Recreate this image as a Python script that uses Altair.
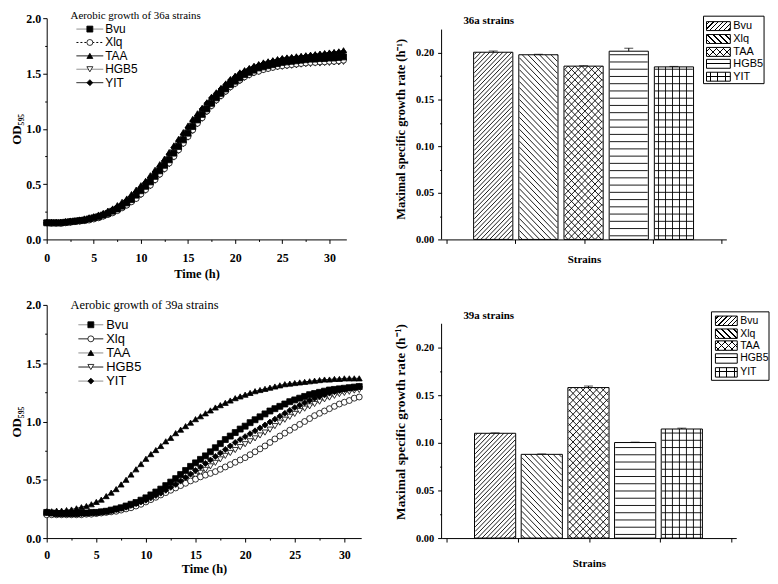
import altair as alt
import pandas as pd

STRAINS = ["Bvu", "Xlq", "TAA", "HGB5", "YIT"]
TIME_H = [0.5 * i for i in range(64)]

OD_36A_BVU = [0.15,0.15,0.15,0.15,0.155,0.16,0.165,0.17,0.175,0.185,
              0.195,0.205,0.22,0.235,0.255,0.275,0.30,0.33,0.36,0.40,
              0.44,0.48,0.52,0.57,0.62,0.67,0.72,0.78,0.84,0.90,
              0.96,1.02,1.08,1.13,1.18,1.23,1.28,1.32,1.36,1.40,
              1.43,1.46,1.49,1.51,1.53,1.55,1.56,1.57,1.58,1.59,
              1.60,1.605,1.61,1.615,1.62,1.625,1.63,1.63,1.635,1.635,
              1.64,1.64,1.645,1.65]
OD_36A_XLQ = [0.15,0.145,0.145,0.145,0.15,0.155,0.16,0.165,0.17,0.175,
              0.185,0.195,0.21,0.225,0.24,0.26,0.285,0.31,0.34,0.37,
              0.41,0.45,0.49,0.54,0.59,0.64,0.69,0.75,0.81,0.87,
              0.93,0.99,1.05,1.10,1.16,1.21,1.26,1.30,1.34,1.38,
              1.41,1.44,1.47,1.49,1.51,1.52,1.535,1.545,1.555,1.565,
              1.57,1.575,1.58,1.585,1.59,1.595,1.60,1.60,1.605,1.605,
              1.61,1.61,1.615,1.62]
OD_36A_TAA = [0.16,0.16,0.16,0.16,0.165,0.17,0.17,0.18,0.19,0.20,
              0.21,0.225,0.24,0.26,0.28,0.31,0.34,0.37,0.41,0.45,
              0.49,0.53,0.58,0.63,0.68,0.73,0.79,0.85,0.91,0.97,
              1.03,1.09,1.14,1.19,1.24,1.29,1.33,1.37,1.41,1.45,
              1.48,1.51,1.53,1.55,1.57,1.585,1.60,1.61,1.62,1.63,
              1.64,1.645,1.65,1.655,1.66,1.665,1.67,1.675,1.68,1.685,
              1.69,1.695,1.70,1.71]
OD_36A_HGB5 = [0.15,0.15,0.145,0.145,0.15,0.15,0.155,0.16,0.165,0.175,
               0.18,0.19,0.205,0.22,0.24,0.26,0.28,0.305,0.335,0.365,
               0.40,0.44,0.48,0.53,0.58,0.63,0.68,0.74,0.80,0.86,
               0.92,0.98,1.04,1.09,1.15,1.20,1.25,1.29,1.33,1.37,
               1.40,1.43,1.46,1.48,1.50,1.515,1.53,1.54,1.55,1.555,
               1.56,1.565,1.57,1.575,1.58,1.585,1.585,1.59,1.59,1.595,
               1.595,1.60,1.60,1.605]
OD_36A_YIT = [0.15,0.15,0.15,0.155,0.16,0.165,0.17,0.175,0.18,0.19,
              0.20,0.215,0.23,0.25,0.27,0.295,0.32,0.355,0.39,0.43,
              0.47,0.515,0.56,0.61,0.66,0.71,0.77,0.83,0.89,0.95,
              1.01,1.07,1.12,1.18,1.23,1.28,1.32,1.36,1.40,1.44,
              1.47,1.50,1.52,1.54,1.56,1.575,1.59,1.60,1.61,1.62,
              1.63,1.635,1.64,1.645,1.65,1.655,1.66,1.665,1.67,1.675,
              1.68,1.685,1.69,1.695]

OD_39A_BVU = [0.22,0.215,0.21,0.21,0.21,0.21,0.21,0.215,0.215,0.22,
              0.22,0.225,0.23,0.24,0.25,0.26,0.275,0.29,0.305,0.325,
              0.345,0.37,0.395,0.42,0.45,0.48,0.51,0.545,0.58,0.615,
              0.645,0.675,0.705,0.74,0.775,0.81,0.845,0.875,0.905,0.935,
              0.96,0.99,1.015,1.04,1.065,1.09,1.11,1.13,1.15,1.17,
              1.185,1.20,1.215,1.23,1.24,1.25,1.26,1.27,1.275,1.28,
              1.285,1.29,1.295,1.30]
OD_39A_XLQ = [0.20,0.20,0.20,0.20,0.20,0.20,0.20,0.20,0.205,0.205,
              0.21,0.215,0.22,0.225,0.23,0.24,0.25,0.26,0.275,0.29,
              0.31,0.33,0.35,0.37,0.39,0.41,0.43,0.45,0.47,0.49,
              0.505,0.525,0.54,0.555,0.57,0.59,0.61,0.63,0.65,0.67,
              0.69,0.715,0.74,0.765,0.79,0.82,0.85,0.875,0.90,0.925,
              0.95,0.975,1.00,1.025,1.05,1.07,1.09,1.11,1.13,1.15,
              1.165,1.18,1.20,1.21]
OD_39A_TAA = [0.23,0.23,0.235,0.235,0.24,0.245,0.255,0.265,0.275,0.29,
              0.31,0.33,0.36,0.39,0.42,0.46,0.50,0.545,0.59,0.635,
              0.68,0.72,0.755,0.79,0.83,0.86,0.90,0.93,0.96,0.99,
              1.02,1.045,1.07,1.095,1.12,1.14,1.16,1.18,1.20,1.215,
              1.23,1.245,1.26,1.27,1.28,1.29,1.30,1.31,1.32,1.325,
              1.33,1.335,1.34,1.345,1.35,1.355,1.36,1.36,1.365,1.365,
              1.37,1.37,1.37,1.37]
OD_39A_HGB5 = [0.21,0.21,0.205,0.205,0.205,0.205,0.205,0.205,0.21,0.21,
               0.215,0.22,0.225,0.23,0.24,0.25,0.26,0.27,0.285,0.30,
               0.315,0.33,0.35,0.37,0.39,0.41,0.435,0.46,0.485,0.51,
               0.535,0.56,0.585,0.615,0.645,0.675,0.705,0.73,0.755,0.78,
               0.805,0.83,0.855,0.88,0.905,0.93,0.96,0.99,1.015,1.04,
               1.065,1.09,1.11,1.13,1.15,1.17,1.19,1.205,1.22,1.235,
               1.245,1.255,1.265,1.27]
OD_39A_YIT = [0.22,0.215,0.21,0.21,0.21,0.21,0.21,0.21,0.215,0.215,
              0.22,0.225,0.23,0.235,0.245,0.255,0.265,0.28,0.295,0.31,
              0.325,0.345,0.365,0.385,0.41,0.435,0.46,0.49,0.52,0.55,
              0.58,0.61,0.64,0.67,0.70,0.73,0.76,0.79,0.82,0.845,
              0.87,0.895,0.92,0.945,0.97,0.995,1.02,1.045,1.07,1.095,
              1.12,1.14,1.16,1.18,1.20,1.215,1.23,1.245,1.255,1.265,
              1.275,1.285,1.29,1.30]

OD_36A = {"Bvu": OD_36A_BVU, "Xlq": OD_36A_XLQ, "TAA": OD_36A_TAA, "HGB5": OD_36A_HGB5, "YIT": OD_36A_YIT}
OD_39A = {"Bvu": OD_39A_BVU, "Xlq": OD_39A_XLQ, "TAA": OD_39A_TAA, "HGB5": OD_39A_HGB5, "YIT": OD_39A_YIT}

RATE_36A = [0.2007, 0.1980, 0.1858, 0.2018, 0.1850]
ERR_36A = [0.0013, 0.0005, 0.0004, 0.0032, 0.0005]
RATE_39A = [0.1100, 0.0879, 0.1580, 0.1003, 0.1145]
ERR_39A = [0.0004, 0.0004, 0.0016, 0.0004, 0.0009]

X_TICKS = [2.5 * i for i in range(13)]
Y_TICKS = [0.25 * i for i in range(9)]
YB_TICKS = [0.025 * i for i in range(9)]

SERIF = "Liberation Serif"
SANS = "Liberation Sans"
GRAY = "#808080"
INK = "black"
CLEAR = "rgba(255,255,255,0)"

# line styles: (line colour, dash, marker shape, marker fill)
STYLE_36A = {
    "Bvu": (GRAY, [1, 0], "square", "black"),
    "Xlq": ("black", [2, 2], "circle", "white"),
    "TAA": ("black", [1, 0], "triangle-up", "black"),
    "HGB5": (GRAY, [1, 0], "triangle-down", "white"),
    "YIT": ("black", [1, 0], "diamond", "black"),
}
STYLE_39A = {
    "Bvu": (GRAY, [1, 0], "square", "black"),
    "Xlq": ("black", [1, 0], "circle", "white"),
    "TAA": (GRAY, [1, 0], "triangle-up", "black"),
    "HGB5": ("black", [1, 0], "triangle-down", "white"),
    "YIT": (GRAY, [1, 0], "diamond", "black"),
}
DRAW_ORDER = ["HGB5", "Xlq", "Bvu", "YIT", "TAA"]

PATTERNS = {
    "Bvu": [("fwd", 4.6, 1.3)],
    "Xlq": [("back", 6.0, 1.3)],
    "TAA": [("fwd", 7.0, 1.2), ("back", 7.0, 1.2)],
    "HGB5": [("h", 7.3, 1.1)],
    "YIT": [("h", 7.3, 1.0), ("v", 7.3, 1.0)],
}


def stripes(kind, w, h, per, th, bg):
    """Gradient that imitates a hatch pattern (used for the small legend swatches)."""
    if kind == "h":
        L, c = h, (0, 0, 0, 1)
    elif kind == "v":
        L, c = w, (0, 0, 1, 0)
    elif kind == "fwd":
        lam = (w + h) / (w * w + h * h)
        L, c = w + h, (0, 0, lam * w, lam * h)
    else:
        lam = (w + h) / (w * w + h * h)
        L, c = w + h, (0, 1, lam * w, 1 - lam * h)
    stops = [(0.0, bg)]
    s = per / 2.0
    while s < L:
        a = s / L
        b = min((s + th) / L, 1.0)
        stops += [(a, bg), (a, INK), (b, INK), (b, bg)]
        s += per
    stops.append((1.0, bg))
    return alt.LinearGradient(
        gradient="linear",
        stops=[alt.GradientStop(color=col, offset=round(o, 5)) for o, col in stops],
        x1=c[0], y1=c[1], x2=c[2], y2=c[3],
    )


def hatch_segments(cx, bw, h, sx, ppu, kind, per):
    """Hatch lines inside one bar, in data units (derived from the bar's value)."""
    segs = []
    if kind == "h":
        v = per / 2
        while v < h:
            segs.append((0, v, bw, v))
            v += per
    elif kind == "v":
        u = per / 2
        while u < bw:
            segs.append((u, 0, u, h))
            u += per
    elif kind == "fwd":  # u - v = c
        c = -h + per / 2
        while c < bw:
            u0, u1 = max(0, c), min(bw, h + c)
            if u1 > u0:
                segs.append((u0, u0 - c, u1, u1 - c))
            c += per
    else:  # u + v = c
        c = per / 2
        while c < bw + h:
            u0, u1 = max(0, c - h), min(bw, c)
            if u1 > u0:
                segs.append((u0, c - u0, u1, c - u1))
            c += per
    out = []
    for u0, v0, u1, v1 in segs:
        out.append({"hx": cx + (u0 - bw / 2) / sx, "hy": v0 / ppu,
                    "hx2": cx + (u1 - bw / 2) / sx, "hy2": v1 / ppu})
    return out


def one(**kw):
    return pd.DataFrame({k: [v] for k, v in kw.items()})


def line_panel(od, style, width, height, xmax, title, title_size, title_y, title_base,
               leg_y0, leg_step, leg_x, leg_font, x_lab_pad, x_title_pad):
    rows = []
    for s in DRAW_ORDER:
        for t, v in zip(TIME_H, od[s]):
            rows.append({"time": t, "od": v, "strain": s})
    df = pd.DataFrame(rows)
    x = alt.X("time:Q", scale=alt.Scale(domain=[0, xmax], nice=False, zero=False),
              axis=alt.Axis(values=X_TICKS, title="Time (h)", titleFontSize=12.5, labelFontSize=12,
                            labelExpr="datum.value % 5 == 0 ? format(datum.value, 'd') : ''",
                            tickSize={"condition": {"test": "datum.value % 5 != 0", "value": 2}, "value": 4},
                            labelPadding=x_lab_pad, titlePadding=x_title_pad, labelFlush=False))
    y = alt.Y("od:Q", scale=alt.Scale(domain=[0, 2], nice=False),
              axis=alt.Axis(values=Y_TICKS, title="OD₅₉₅", titleFontSize=13, labelFontSize=12,
                            labelExpr="round(datum.value * 100) % 50 == 0 ? format(datum.value, '.1f') : ''",
                            tickSize={"condition": {"test": "round(datum.value * 100) % 50 != 0", "value": 2}, "value": 4},
                            labelPadding=2, titlePadding=2, labelFlush=False))
    dom = STRAINS
    lines = alt.Chart(df).mark_line(strokeWidth=1).encode(
        x=x, y=y, detail="strain:N",
        color=alt.Color("strain:N", scale=alt.Scale(domain=dom, range=[style[s][0] for s in dom]), legend=None),
        strokeDash=alt.StrokeDash("strain:N", scale=alt.Scale(domain=dom, range=[style[s][1] for s in dom]), legend=None),
    )
    pts = alt.Chart(df).mark_point(filled=True, size=36, opacity=1, strokeWidth=0.8).encode(
        x=x, y=y,
        shape=alt.Shape("strain:N", scale=alt.Scale(domain=dom, range=[style[s][2] for s in dom]), legend=None),
        fill=alt.Fill("strain:N", scale=alt.Scale(domain=dom, range=[style[s][3] for s in dom]), legend=None),
        stroke=alt.value("black"),
    )
    layers = [lines, pts]
    for i, s in enumerate(STRAINS):
        yy = leg_y0 + i * leg_step
        lc, dash, shp, fc = style[s]
        d = one(strain=s)
        layers.append(alt.Chart(d).mark_rule(color=lc, strokeWidth=1, strokeDash=dash).encode(
            x=alt.value(leg_x[0]), x2=alt.value(leg_x[1]), y=alt.value(yy)))
        layers.append(alt.Chart(d).mark_point(shape=shp, filled=True, fill=fc, stroke="black", size=36,
                                               opacity=1, strokeWidth=0.8).encode(
            x=alt.value((leg_x[0] + leg_x[1]) / 2), y=alt.value(yy)))
        layers.append(alt.Chart(d).mark_text(align="left", baseline="middle", font=SANS, fontSize=leg_font,
                                              color="black").encode(
            x=alt.value(leg_x[2]), y=alt.value(yy), text="strain:N"))
    layers.append(alt.Chart(one(label=title)).mark_text(align="left", baseline=title_base, font=SERIF,
                                                         fontSize=title_size, color="black").encode(
        x=alt.value(24), y=alt.value(title_y), text="label:N"))
    return alt.layer(*layers).properties(width=width, height=height)


def bar_panel(rates, errs, width, height, ppu, xdom, bw, title, title_y,
              box, rows_y, sw_x, sw_w, sw_h, lab_x, leg_font, x_title_pad, y_title_size):
    ymax = height / ppu
    df = pd.DataFrame({"strain": STRAINS, "idx": [1, 2, 3, 4, 5], "rate": rates,
                       "hi": [r + e for r, e in zip(rates, errs)]})
    span = xdom[1] - xdom[0]
    sx = width / span
    xq = [xdom[0] + span * k / 4 for k in range(5)]
    xaxis = alt.Axis(values=xq, labels=False, tickSize=4, title="Strains", titleFontSize=11,
                     titlePadding=x_title_pad)
    yaxis = alt.Axis(values=YB_TICKS, domain=False, title="Maximal specific growth rate (h⁻¹)",
                     titleFontSize=y_title_size, labelFontSize=10.5, labelPadding=4, titlePadding=8,
                     labelExpr="round(datum.value * 1000) % 50 == 0 ? format(datum.value, '.2f') : ''",
                     tickSize={"condition": {"test": "round(datum.value * 1000) % 50 != 0", "value": 2}, "value": 4},
                     labelFlush=False)

    def X(f="idx:Q"):
        return alt.X(f, scale=alt.Scale(domain=xdom, nice=False, zero=False), axis=xaxis)

    def Y(f):
        return alt.Y(f, scale=alt.Scale(domain=[0, ymax], nice=False), axis=yaxis)

    hrows = []
    for i, s in enumerate(STRAINS):
        h = rates[i] * ppu
        for kind, per, th in PATTERNS[s]:
            hrows += hatch_segments(i + 1, bw, h, sx, ppu, kind, per)
    hdf = pd.DataFrame(hrows)

    layers = [
        alt.Chart(one(a=0.0, b=0.225, idx=1)).mark_rule(color="black", strokeWidth=1).encode(
            x=alt.value(0), y=Y("a:Q"), y2="b:Q"),
        alt.Chart(df).mark_bar(size=bw, fill="white", strokeWidth=0).encode(x=X(), y=Y("rate:Q")),
        alt.Chart(hdf).mark_rule(color="black", strokeWidth=0.9).encode(
            x=X("hx:Q"), x2="hx2:Q", y=Y("hy:Q"), y2="hy2:Q"),
        alt.Chart(df).mark_bar(size=bw, fillOpacity=0, stroke="black", strokeWidth=1).encode(
            x=X(), y=Y("rate:Q")),
        alt.Chart(df).mark_rule(color="black", strokeWidth=1).encode(x=X(), y=Y("rate:Q"), y2="hi:Q"),
        alt.Chart(df).mark_tick(orient="horizontal", size=9, thickness=1, color="black").encode(
            x=X(), y=Y("hi:Q")),
    ]
    # legend
    layers.append(alt.Chart(one(k=0)).mark_rect(fill="white", stroke="black", strokeWidth=1).encode(
        x=alt.value(box[0]), x2=alt.value(box[1]), y=alt.value(box[2]), y2=alt.value(box[3])))
    for i, s in enumerate(STRAINS):
        yc = rows_y[i]
        d = one(strain=s)
        for j, (kind, per, th) in enumerate(PATTERNS[s]):
            fill = stripes(kind, sw_w, sw_h, per, th, "white" if j == 0 else CLEAR)
            layers.append(alt.Chart(d).mark_rect(fill=fill, strokeWidth=0).encode(
                x=alt.value(sw_x), x2=alt.value(sw_x + sw_w),
                y=alt.value(yc - sw_h / 2), y2=alt.value(yc + sw_h / 2)))
        layers.append(alt.Chart(d).mark_rect(fillOpacity=0, stroke="black", strokeWidth=1).encode(
            x=alt.value(sw_x), x2=alt.value(sw_x + sw_w),
            y=alt.value(yc - sw_h / 2), y2=alt.value(yc + sw_h / 2)))
        layers.append(alt.Chart(d).mark_text(align="left", baseline="middle", font=SANS, fontSize=leg_font,
                                              color="black").encode(
            x=alt.value(lab_x), y=alt.value(yc), text="strain:N"))
    layers.append(alt.Chart(one(label=title)).mark_text(align="left", baseline="middle", font=SERIF,
                                                         fontWeight="bold", fontSize=11, color="black").encode(
        x=alt.value(22), y=alt.value(title_y), text="label:N"))
    return alt.layer(*layers).properties(width=width, height=height)


tl = line_panel(OD_36A, STYLE_36A, 302, 223, 31.8, "Aerobic growth of 36a strains", 11, 3, "bottom",
                11, 13.5, (30, 57, 59), 12, 9, 4)
tr = bar_panel(RATE_36A, ERR_36A, 287, 223, 940, [-0.033, 6.05], 39.5, "36a strains", 3,
               (264, 325, -2, 66), [8, 21, 34, 46, 59], 267, 24, 9, 294, 11, 10, 12.5)
bl = line_panel(OD_39A, STYLE_39A, 317, 235, 31.7, "Aerobic growth of 39a strains", 12.5, 0, "middle",
                20, 14.2, (32, 57, 60), 13, 8, 2)
br = bar_panel(RATE_39A, ERR_39A, 297, 235, 960, [-0.04, 6.06], 41.5, "39a strains", 11,
               (272, 330, 7, 76), [16, 29, 41, 54, 68], 276, 22, 9.5, 301, 10.5, 15, 13.5)

chart = alt.concat(tl, tr, bl, br, columns=2, spacing={"row": 66, "column": 81}, bounds="flush").properties(
    padding={"left": 3, "top": 0, "right": 0, "bottom": 0}
).configure_view(stroke=None).configure_axis(
    labelFont=SERIF, labelFontWeight="bold", labelColor="black",
    titleFont=SERIF, titleFontWeight="bold", titleColor="black",
    domainColor="black", tickColor="black", domainWidth=1, tickWidth=1, grid=False,
)

chart.save("out.html", embed_options={"renderer": "svg", "actions": False})
